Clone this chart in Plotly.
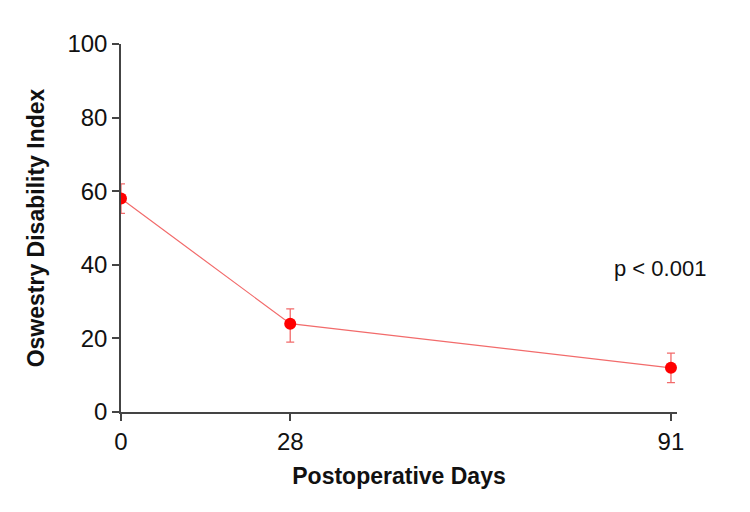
import plotly.graph_objects as go

days = [0, 28, 91]
odi_mean = [58, 24, 12]
err_plus = [4, 4, 4]
err_minus = [4, 5, 4]

x_ticks = [0, 28, 91]
y_ticks = [0, 20, 40, 60, 80, 100]

font_family = "Liberation Sans, Arial, sans-serif"
axis_color = "#444444"

fig = go.Figure()

fig.add_trace(
    go.Scatter(
        x=days,
        y=odi_mean,
        mode="lines+markers",
        line=dict(color="#f26b6b", width=1.2),
        marker=dict(color="#ff0000", size=12),
        error_y=dict(
            type="data",
            symmetric=False,
            array=err_plus,
            arrayminus=err_minus,
            color="#f26b6b",
            thickness=1.3,
            width=4,
        ),
        showlegend=False,
    )
)

fig.add_annotation(
    x=0.969,
    y=0.391,
    xref="paper",
    yref="paper",
    xanchor="center",
    yanchor="middle",
    text="p < 0.001",
    showarrow=False,
    font=dict(size=22, color="#111111", family=font_family),
)

# page body adds an 8px offset, margins compensate for it
fig.update_layout(
    width=750,
    height=512,
    margin=dict(l=113, r=81, t=36, b=108),
    plot_bgcolor="white",
    paper_bgcolor="white",
    font=dict(family=font_family, color="#111111"),
    xaxis=dict(
        range=[0, 92],
        tickvals=x_ticks,
        automargin=False,
        showgrid=False,
        zeroline=False,
        showline=True,
        linecolor=axis_color,
        linewidth=1.5,
        ticks="outside",
        ticklen=7,
        tickcolor=axis_color,
        tickwidth=1.5,
        tickfont=dict(size=24),
        title=dict(
            text="<b>Postoperative Days</b>",
            font=dict(size=23),
            standoff=14,
        ),
    ),
    yaxis=dict(
        range=[0, 100],
        tickvals=y_ticks,
        automargin=False,
        showgrid=False,
        zeroline=False,
        showline=True,
        linecolor=axis_color,
        linewidth=1.5,
        ticks="outside",
        ticklen=7,
        tickcolor=axis_color,
        tickwidth=1.5,
        tickfont=dict(size=24),
        title=dict(
            text="<b>Oswestry Disability Index</b>",
            font=dict(size=23),
            standoff=16,
        ),
    ),
)

fig.write_html("out.html")
